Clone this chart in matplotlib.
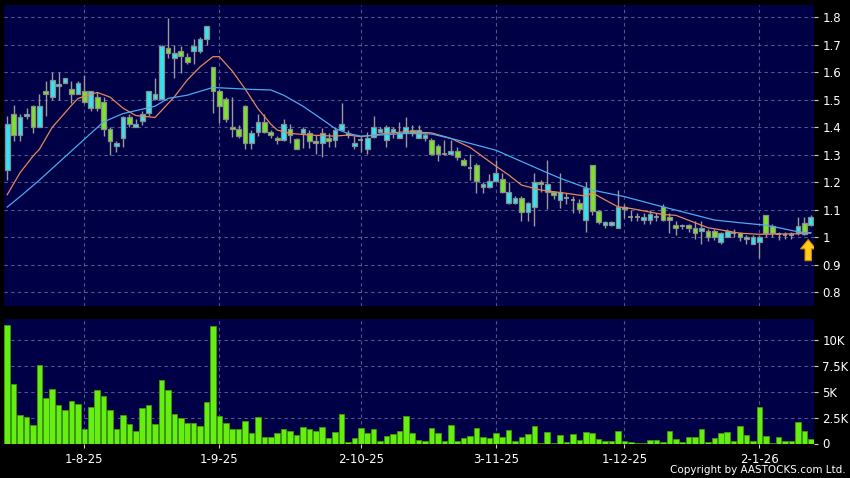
import numpy as np
import matplotlib
matplotlib.use('Agg')
import matplotlib.pyplot as plt
from matplotlib.ticker import FixedLocator, FuncFormatter

# daily candles (index 0 = mid Jul 2025)
opens = [
    1.245, 1.449, 1.371, 1.440, 1.479, 1.400, 1.531, 1.509, 1.549, 1.560,
    1.538, 1.520, 1.531, 1.469, 1.509, 1.491, 1.394, 1.332, 1.360, 1.439,
    1.400, 1.423, 1.451, 1.502, 1.502, 1.687, 1.651, 1.679, 1.657, 1.679,
    1.679, 1.720, 1.618, 1.532, 1.502, 1.400, 1.393, 1.479, 1.342, 1.382,
    1.420, 1.384, 1.360, 1.353, 1.393, 1.359, 1.381, 1.381, 1.351, 1.342,
    1.360, 1.353, 1.390, 1.381, 1.331, 1.354, 1.320, 1.364, 1.384, 1.353,
    1.384, 1.360, 1.380, 1.390, 1.360, 1.360, 1.354, 1.332, 1.303, 1.303,
    1.314, 1.281, 1.251, 1.262, 1.183, 1.183, 1.204, 1.211, 1.124, 1.124,
    1.142, 1.093, 1.111, 1.202, 1.164, 1.164, 1.136, 1.142, 1.136, 1.124,
    1.063, 1.263, 1.096, 1.045, 1.045, 1.033, 1.111, 1.073, 1.073, 1.063,
    1.063, 1.073, 1.111, 1.073, 1.044, 1.040, 1.044, 1.033, 1.022, 1.023,
    1.023, 0.984, 1.002, 1.017, 1.015, 0.993, 0.975, 0.984, 1.082, 1.041,
    1.012, 1.010, 1.010, 1.017, 1.053, 1.044,
]
highs = [
    1.44, 1.48, 1.45, 1.47, 1.48, 1.52, 1.57, 1.60, 1.60, 1.58,
    1.57, 1.57, 1.59, 1.53, 1.53, 1.51, 1.40, 1.35, 1.44, 1.45,
    1.43, 1.46, 1.53, 1.578, 1.70, 1.796, 1.699, 1.697, 1.669, 1.72,
    1.73, 1.77, 1.62, 1.54, 1.51, 1.509, 1.41, 1.48, 1.39, 1.45,
    1.45, 1.39, 1.37, 1.429, 1.412, 1.36, 1.40, 1.39, 1.372, 1.396,
    1.38, 1.40, 1.49, 1.39, 1.37, 1.366, 1.384, 1.441, 1.40, 1.41,
    1.40, 1.42, 1.439, 1.41, 1.41, 1.38, 1.36, 1.34, 1.354, 1.354,
    1.33, 1.29, 1.303, 1.27, 1.20, 1.23, 1.281, 1.233, 1.20, 1.15,
    1.15, 1.13, 1.233, 1.21, 1.281, 1.17, 1.233, 1.16, 1.15, 1.14,
    1.202, 1.263, 1.10, 1.06, 1.06, 1.172, 1.12, 1.10, 1.09, 1.09,
    1.10, 1.09, 1.12, 1.09, 1.06, 1.05, 1.05, 1.06, 1.06, 1.03,
    1.03, 1.02, 1.03, 1.03, 1.02, 1.01, 1.01, 1.01, 1.082, 1.05,
    1.02, 1.02, 1.02, 1.075, 1.075, 1.08,
]
lows = [
    1.21, 1.35, 1.35, 1.43, 1.38, 1.40, 1.44, 1.50, 1.50, 1.56,
    1.49, 1.52, 1.49, 1.46, 1.46, 1.37, 1.30, 1.31, 1.33, 1.40,
    1.40, 1.41, 1.44, 1.50, 1.50, 1.651, 1.578, 1.599, 1.63, 1.63,
    1.67, 1.70, 1.451, 1.415, 1.42, 1.366, 1.36, 1.32, 1.32, 1.37,
    1.38, 1.36, 1.34, 1.35, 1.342, 1.32, 1.324, 1.324, 1.303, 1.291,
    1.33, 1.33, 1.39, 1.36, 1.32, 1.311, 1.303, 1.36, 1.38, 1.33,
    1.36, 1.36, 1.329, 1.37, 1.36, 1.35, 1.30, 1.279, 1.30, 1.30,
    1.28, 1.26, 1.208, 1.162, 1.16, 1.18, 1.20, 1.16, 1.12, 1.12,
    1.060, 1.060, 1.042, 1.164, 1.102, 1.14, 1.105, 1.12, 1.087, 1.09,
    1.020, 1.08, 1.05, 1.035, 1.04, 1.033, 1.07, 1.06, 1.06, 1.05,
    1.05, 1.06, 1.06, 1.015, 1.01, 1.03, 1.02, 0.995, 0.975, 0.985,
    0.99, 0.975, 1.00, 1.00, 0.985, 0.975, 0.975, 0.923, 1.00, 1.00,
    0.99, 0.995, 0.995, 1.01, 1.01, 1.04,
]
closes = [
    1.411, 1.371, 1.439, 1.449, 1.400, 1.479, 1.520, 1.571, 1.559, 1.578,
    1.520, 1.560, 1.491, 1.531, 1.469, 1.394, 1.351, 1.342, 1.439, 1.411,
    1.411, 1.448, 1.532, 1.520, 1.697, 1.669, 1.669, 1.659, 1.639, 1.697,
    1.720, 1.768, 1.532, 1.479, 1.429, 1.393, 1.369, 1.342, 1.380, 1.420,
    1.382, 1.372, 1.353, 1.412, 1.372, 1.320, 1.393, 1.351, 1.342, 1.381,
    1.351, 1.390, 1.411, 1.372, 1.342, 1.354, 1.360, 1.400, 1.393, 1.400,
    1.393, 1.380, 1.400, 1.378, 1.390, 1.371, 1.303, 1.303, 1.303, 1.314,
    1.291, 1.263, 1.251, 1.204, 1.193, 1.204, 1.233, 1.164, 1.164, 1.142,
    1.093, 1.124, 1.202, 1.193, 1.193, 1.153, 1.164, 1.142, 1.136, 1.102,
    1.180, 1.096, 1.057, 1.055, 1.055, 1.109, 1.102, 1.073, 1.073, 1.073,
    1.084, 1.073, 1.063, 1.063, 1.033, 1.040, 1.033, 1.015, 1.033, 1.002,
    1.002, 1.015, 1.023, 1.017, 1.002, 1.002, 1.002, 1.002, 1.015, 1.015,
    1.012, 1.010, 1.010, 1.041, 1.012, 1.073,
]
# volume in thousands of shares
volumes_k = [
    11.45, 5.80, 2.80, 2.58, 1.77, 7.58, 4.45, 5.32, 3.74, 3.23,
    4.10, 3.87, 1.42, 3.55, 5.13, 4.61, 3.23, 1.45, 2.74, 1.90,
    1.19, 3.39, 3.68, 1.87, 6.13, 5.16, 2.84, 2.42, 2.03, 1.94,
    1.68, 4.00, 11.39, 2.68, 1.94, 1.45, 1.45, 2.13, 1.06, 2.58,
    0.61, 0.65, 1.00, 1.39, 1.23, 0.84, 1.58, 1.45, 1.23, 1.61,
    0.55, 1.13, 2.84, 0.19, 0.58, 1.48, 1.00, 1.39, 0.23, 0.68,
    0.90, 1.23, 2.68, 1.00, 0.32, 0.26, 1.52, 1.06, 0.23, 1.77,
    0.26, 0.58, 0.74, 1.52, 0.65, 0.52, 1.00, 0.61, 1.26, 0.26,
    0.61, 0.94, 1.74, 0.06, 1.13, 0.03, 0.81, 0.19, 0.90, 0.32,
    1.13, 0.97, 0.48, 0.29, 0.23, 1.23, 0.29, 0.19, 0.03, 0.03,
    0.32, 0.32, 0.19, 1.23, 0.42, 0.10, 0.65, 0.61, 1.39, 0.16,
    0.55, 1.00, 1.16, 0.23, 1.68, 0.84, 0.23, 3.58, 0.71, 0.03,
    0.61, 0.23, 0.23, 2.06, 1.19, 0.48,
]

# moving averages, key points
ma_fast_idx = [0, 2, 4, 5, 7, 10, 11, 14, 16, 18, 20, 23, 26, 28, 30, 32, 33,
               35, 37, 39, 41, 42, 44, 47, 51, 53, 55, 57, 59, 62, 66, 69, 72,
               76, 78, 80, 83, 87, 90, 91, 93, 95, 97, 102, 104, 109, 114, 117,
               123, 125]
ma_fast = [1.155, 1.235, 1.295, 1.32, 1.40, 1.48, 1.505, 1.527, 1.51, 1.47,
           1.443, 1.436, 1.511, 1.572, 1.62, 1.657, 1.657, 1.605, 1.54, 1.468,
           1.412, 1.39, 1.378, 1.372, 1.368, 1.372, 1.366, 1.372, 1.378, 1.384,
           1.38, 1.36, 1.327, 1.259, 1.227, 1.19, 1.172, 1.16, 1.15, 1.162,
           1.136, 1.111, 1.105, 1.083, 1.08, 1.035, 1.015, 1.011, 1.013, 1.017]
ma_slow_idx = [0, 2, 5, 9, 13, 15, 18, 21, 23, 25, 28, 32, 38, 41, 43, 46, 48,
               51, 53, 55, 58, 62, 66, 70, 76, 83, 86, 91, 96, 101, 104, 108,
               110, 114, 118, 120, 123, 125]
ma_slow = [1.11, 1.148, 1.208, 1.293, 1.378, 1.42, 1.45, 1.466, 1.477, 1.505,
           1.517, 1.545, 1.538, 1.536, 1.517, 1.477, 1.445, 1.396, 1.378, 1.368,
           1.372, 1.378, 1.376, 1.354, 1.317, 1.245, 1.215, 1.172, 1.148, 1.117,
           1.099, 1.075, 1.063, 1.053, 1.044, 1.035, 1.02, 1.015]

tick_idx = [12, 33, 55, 76, 96, 117]
tick_labels = ['1-8-25', '1-9-25', '2-10-25', '3-11-25', '1-12-25', '2-1-26']
price_ticks = [0.8, 0.9, 1.0, 1.1, 1.2, 1.3, 1.4, 1.5, 1.6, 1.7, 1.8]
vol_ticks = [0, 2.5, 5, 7.5, 10]

NAVY = '#000046'
CYAN = '#33e4f2'
GREEN = '#7ae42a'
EDGE = '#8c8c8c'
VOL = '#66ee11'
GRID = '#56568e'

fig = plt.figure(figsize=(8.5, 4.78), dpi=100, facecolor='black')
ax = fig.add_axes([4 / 850, 1 - 305.5 / 478, 810 / 850, 300.5 / 478])
axv = fig.add_axes([4 / 850, 1 - 443.5 / 478, 810 / 850, 124.5 / 478], sharex=ax)

for a in (ax, axv):
    a.set_facecolor(NAVY)
    for s in a.spines.values():
        s.set_visible(False)
    a.grid(True, color=GRID, linestyle=(0, (3, 3)), linewidth=0.8)
    a.set_axisbelow(True)
    a.yaxis.tick_right()
    a.tick_params(axis='y', colors='#d0d0d0', labelcolor='white', length=3,
                  width=0.8, pad=3, labelsize=8.5)

x = np.arange(len(closes))
o = np.array(opens)
c = np.array(closes)
up = c > o
down = c < o
flat = c == o
lo = np.minimum(o, c)
h = np.abs(c - o)

# candles
ax.vlines(x, lows, highs, color='#9a9a9a', linewidth=1, zorder=2)
ax.bar(x[up], h[up], bottom=lo[up], width=0.74, color=CYAN, edgecolor=EDGE,
       linewidth=0.9, zorder=3)
ax.bar(x[down], h[down], bottom=lo[down], width=0.74, color=GREEN,
       edgecolor=EDGE, linewidth=0.9, zorder=3)
ax.hlines(c[flat], x[flat] - 0.37, x[flat] + 0.37, color='#a0a0a0',
          linewidth=1.2, zorder=3)

ax.plot(ma_fast_idx, ma_fast, color='#e8865a', linewidth=0.9, zorder=4)
ax.plot(ma_slow_idx, ma_slow, color='#4aaaf0', linewidth=0.9, zorder=4)

# marker arrow under the latest candles
ax.arrow(124.6, 0.915, 0, 0.077, width=1.0, head_width=2.4, head_length=0.034,
         length_includes_head=True, fc='#ffcc1a', ec='#d08a00', linewidth=0.8,
         zorder=5)

ax.set_ylim(0.752, 1.845)
ax.yaxis.set_major_locator(FixedLocator(price_ticks))
ax.yaxis.set_major_formatter(FuncFormatter(lambda v, p: f'{v:g}'))
ax.tick_params(axis='x', bottom=False, labelbottom=False)

# volume
axv.bar(x, volumes_k, width=0.86, color=VOL, edgecolor='#3c9a08',
        linewidth=0.6, zorder=3)
axv.set_ylim(0, 12.05)
axv.yaxis.set_major_locator(FixedLocator(vol_ticks))
axv.yaxis.set_major_formatter(
    FuncFormatter(lambda v, p: '0' if v == 0 else f'{v:g}K'))
axv.set_xlim(-0.5, len(closes) - 0.5)
axv.set_xticks(tick_idx)
axv.set_xticklabels(tick_labels)
axv.tick_params(axis='x', colors='#d0d0d0', labelcolor='white', length=3,
                width=0.8, pad=4, labelsize=8.5)
axv.yaxis.get_gridlines()[0].set_visible(False)

fig.text(0.995, 1 - 470 / 478, 'Copyright by AASTOCKS.com Ltd.', ha='right',
         va='center', color='white', fontsize=7.5)

fig.savefig('out.png', dpi=100, facecolor='black')
